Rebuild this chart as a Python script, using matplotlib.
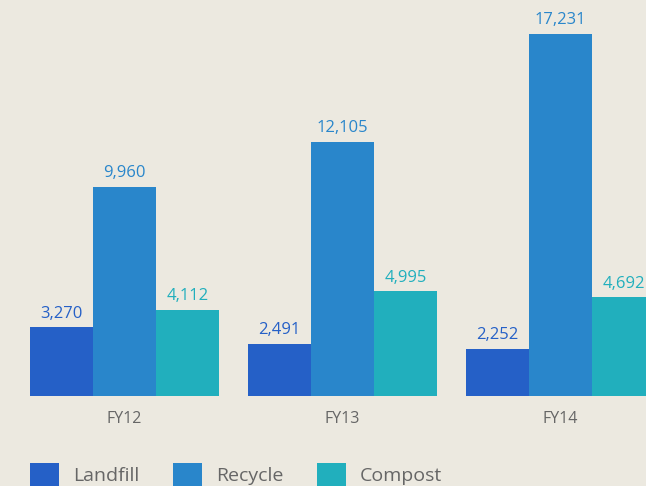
import numpy as np
import matplotlib.pyplot as plt

plt.rcParams['font.family'] = ['Open Sans', 'DejaVu Sans']

years = ["FY12", "FY13", "FY14"]
landfill = [3270, 2491, 2252]
recycle = [9960, 12105, 17231]
compost = [4112, 4995, 4692]

series = ["Landfill", "Recycle", "Compost"]
colors = ["#2560C7", "#2986CB", "#21AFBD"]
bg = "#ECE9E0"

fig = plt.figure(figsize=(6.46, 4.86), dpi=100, facecolor=bg)
ax = fig.add_axes([0, 90 / 486, 1, 396 / 486])
ax.set_facecolor(bg)

x = np.arange(len(years))
w = 0.289
for i, (vals, name, c) in enumerate(zip([landfill, recycle, compost], series, colors)):
    bars = ax.bar(x + (i - 1) * w, vals, width=w, color=c, label=name)
    ax.bar_label(bars, labels=[f"{v:,}" for v in vals], padding=4,
                 color=c, fontsize=12)

ax.set_xlim(-124.5 / 218, (646 - 124.5) / 218)
ax.set_ylim(0, 18850)
ax.set_xticks(x)
ax.set_xticklabels(years, fontsize=11.5, color="#666666")
ax.tick_params(axis="x", length=0, pad=11)
ax.set_yticks([])
for s in ax.spines.values():
    s.set_visible(False)

fig.legend(loc="center left", bbox_to_anchor=(30 / 646, 11.5 / 486), ncol=3,
           frameon=False, fontsize=14, handlelength=1.5, handleheight=1.5,
           handletextpad=0.7, columnspacing=1.75, borderpad=0, borderaxespad=0,
           labelcolor="#666666")

fig.savefig("out.png", dpi=100, facecolor=bg)
